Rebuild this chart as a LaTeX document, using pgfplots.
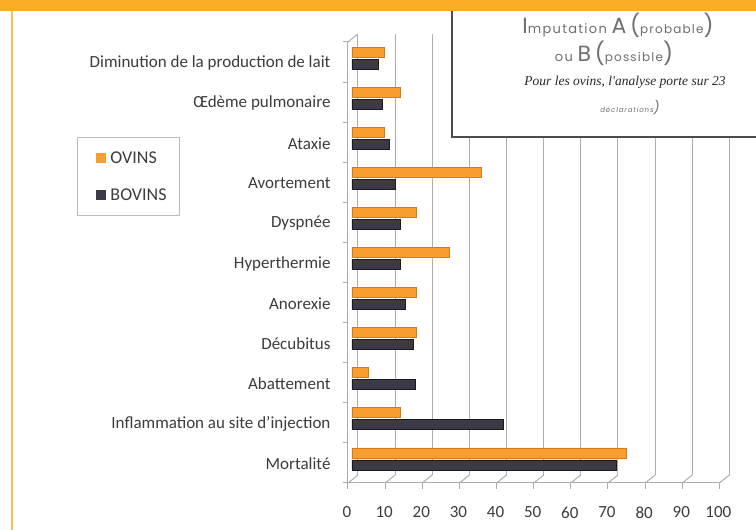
\documentclass[border=0pt]{standalone}
\usepackage{fontspec}
\setmainfont{Carlito}
\newfontfamily\popp{Poppins}
\newfontfamily\lserif{Liberation Serif}
\usepackage{pgfplots}
\pgfplotsset{compat=1.18}
\definecolor{band}{RGB}{249,173,39}
\definecolor{ovin}{RGB}{246,158,48}
\definecolor{ovinedge}{RGB}{214,120,30}
\definecolor{bovin}{RGB}{58,59,70}
\definecolor{bovinedge}{RGB}{25,25,30}
\definecolor{gridc}{RGB}{175,172,170}
\definecolor{labc}{RGB}{60,60,60}
\definecolor{boxtxt}{RGB}{110,110,110}
\begin{document}
\begin{tikzpicture}
\useasboundingbox (0pt,0pt) rectangle (756pt,530pt);
\fill[white] (0pt,0pt) rectangle (756pt,530pt);
\fill[band] (0pt,519pt) rectangle (756pt,530pt);
\draw[band!80!white, line width=2pt] (12pt,0pt) -- (12pt,519pt);
\begin{axis}[
  at={(348pt,47pt)}, anchor=south west,
  scale only axis, width=371.4pt, height=441pt,
  xmin=0, xmax=100, ymin=-0.5, ymax=10.5,
  clip=false,
  axis lines*=left,
  axis line style={gridc, line width=1pt},
  xtick={0,10,...,100},
  xmajorgrids,
  major grid style={gridc, line width=1pt, xshift=10pt, yshift=8pt},
  xtick style={gridc, line width=1pt},
  tick align=outside, major tick length=6pt,
  ytick={0,...,10},
  yticklabels={Mortalité, Inflammation au site d'injection, Abattement, Décubitus, Anorexie, Hyperthermie, Dyspnée, Avortement, Ataxie, Œdème pulmonaire, Diminution de la production de lait},
  ytick style={draw=none},
  extra y ticks={-0.5,0.5,...,10.5},
  extra y tick labels={},
  extra y tick style={ytick style={draw=gridc, line width=1pt}, major tick length=5pt},
  /pgf/number format/assume math mode=true,
  tick label style={font=\fontsize{17}{17}\selectfont, color=labc},
  yticklabel style={anchor=east, xshift=-8pt, yshift=-1pt},
  xticklabel style={yshift=-14pt, xshift=-1pt},
  legend style={at={(-0.7297,0.7846)}, anchor=north west, draw=gray!55, line width=1pt,
    font=\fontsize{18}{18}\selectfont\color{labc}, inner xsep=11pt, inner ysep=12pt, row sep=20pt},
  legend cell align=left,
]
\addplot[xbar, bar width=10pt, bar shift=10pt, fill=ovin, draw=ovinedge, line width=0.8pt, xshift=4pt,
  legend image code/.code={\path[draw=none,fill=none] (0pt,-5pt) rectangle (20pt,5pt); \fill[ovin,draw=none] (8pt,-5pt) rectangle (18pt,5pt);}]
  coordinates {(73.9,0) (13.0,1) (4.3,2) (17.4,3) (17.4,4) (26.1,5) (17.4,6) (34.8,7) (8.7,8) (13.0,9) (8.7,10)};
\addlegendentry{OVINS}
\addplot[xbar, bar width=10pt, bar shift=-2pt, fill=bovin, draw=bovinedge, line width=0.8pt, xshift=4pt,
  legend image code/.code={\path[draw=none,fill=none] (0pt,-5pt) rectangle (20pt,5pt); \fill[bovin,draw=none] (8pt,-5pt) rectangle (18pt,5pt);}]
  coordinates {(71.2,0) (40.7,1) (17.0,2) (16.4,3) (14.3,4) (13.1,5) (13.1,6) (11.6,7) (10.0,8) (8.3,9) (7.2,10)};
\addlegendentry{BOVINS}
\pgfplotsinvokeforeach{0,10,...,100}{\draw[gridc, line width=1pt] (axis cs:#1,-0.5) -- ++(10pt,8pt);}
\draw[gridc, line width=1pt] (axis cs:0,10.5) -- ++(10pt,8pt);
\end{axis}
\fill[white] (452pt,393pt) rectangle (756pt,519pt);
\draw[gray!60!black, line width=1.5pt] (452pt,519pt) -- (452pt,393pt) -- (756pt,393pt);
\node[boxtxt, inner sep=0pt] at (618pt,505pt) {\popp\fontsize{22}{22}\selectfont I\addfontfeature{LetterSpace=10}\fontsize{13}{13}\selectfont mputation \fontsize{22}{22}\selectfont A\,(\fontsize{12}{12}\selectfont probable\fontsize{22}{22}\selectfont )};
\node[boxtxt, inner sep=0pt] at (614pt,477pt) {\popp\addfontfeature{LetterSpace=10}\fontsize{13}{13}\selectfont ou \fontsize{22}{22}\selectfont B\,(\fontsize{12}{12}\selectfont possible\fontsize{22}{22}\selectfont )};
\node[black!85, inner sep=0pt] at (625pt,448pt) {\lserif\itshape\fontsize{13.5}{14}\selectfont Pour les ovins, l'analyse porte sur 23};
\node[boxtxt, inner sep=0pt] at (630pt,422pt) {\popp\itshape\addfontfeature{LetterSpace=12}\fontsize{7}{7}\selectfont déclarations\fontsize{13}{13}\selectfont )};
\end{tikzpicture}
\end{document}
